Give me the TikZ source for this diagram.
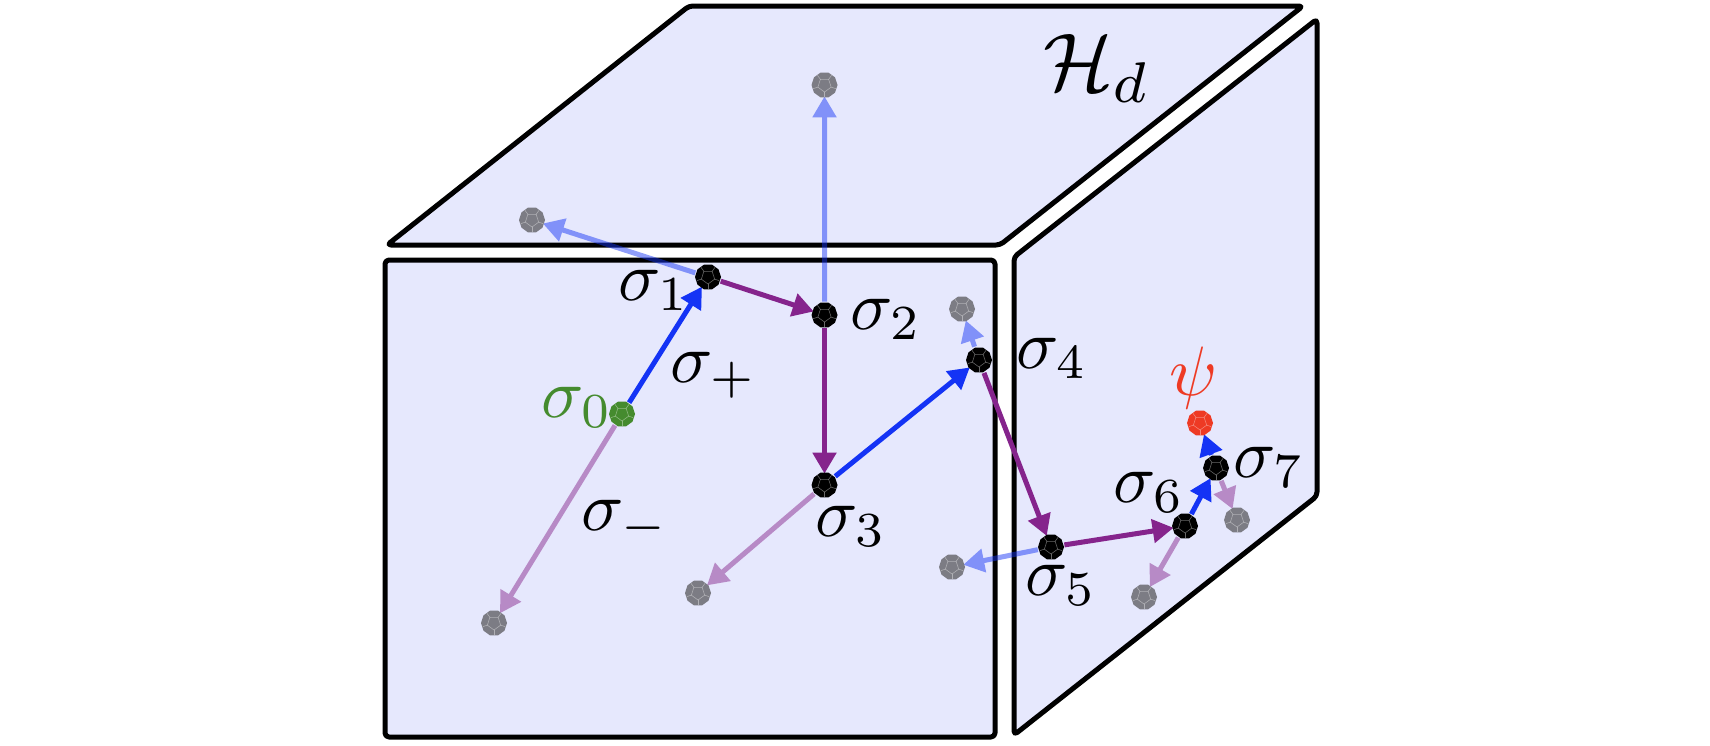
\documentclass[tikz,border=0pt]{standalone}
\usetikzlibrary{arrows.meta,shapes.geometric}
\definecolor{facecol}{HTML}{E6E8FD}
\definecolor{bluecol}{HTML}{1433F5}
\definecolor{purplecol}{HTML}{85248C}
\definecolor{greencol}{HTML}{458B2E}
\definecolor{redcol}{HTML}{EE3A24}
\definecolor{graycol}{HTML}{7C7C84}
\tikzset{
  boxface/.style={fill=facecol,draw=black,line width=5pt,rounded corners=4pt,line join=round},
  dodnode/.style={regular polygon,regular polygon sides=10,minimum size=26pt,inner sep=0pt,outer sep=1pt,draw=none},
  dodline/.style={draw=white,draw opacity=.4,line width=.55pt},
  conn/.style={line width=5pt,-{Triangle[length=21pt,width=23pt]},shorten >=-2pt},
  plusarrow/.style={conn,bluecol},
  minusarrow/.style={conn,purplecol},
  lightlayer/.style={transparency group,opacity=.48},
  lab/.style={anchor=base west,inner sep=0pt,scale=7},
}
\newcommand{\dodeca}[4]{%
  \node[dodnode,fill=#4] (#1) at (#2,#3) {};
  \begin{scope}[shift={(#1.center)}]
    \draw[dodline] (54:7pt) -- (126:7pt) -- (198:7pt) -- (270:7pt) -- (342:7pt) -- cycle;
    \foreach \a in {54,126,198,270,342} \draw[dodline] (\a:7pt) -- (\a:12pt);
  \end{scope}
}
\begin{document}
\begin{tikzpicture}[x=1pt,y=-1pt]
\useasboundingbox (0,0) rectangle (1710,745);
% faces
\draw[boxface] (387,245) -- (689,6) -- (1303,6) -- (1000,245) -- cycle;
\draw[boxface] (1014,257) -- (1317,19) -- (1317,496) -- (1014,735) -- cycle;
\draw[boxface] (385,260) rectangle (995,737);
% invisible anchors for the connectors
\foreach \n/\x/\y in {s0/622/414,s1/708/277,s2/824.5/315,s3/824.5/485,s4/979/360,s5/1051/547,s6/1185/526,s7/1216/468,
  psi/1200/423,g0/494/623,g1/532/220,g2/824.5/85,g3/698/593,g4/962/309,g5/952/567,g6/1144/597,g7/1237/520}
  \node[dodnode] (\n) at (\x,\y) {};
% connectors
\begin{scope}[lightlayer]
\draw[minusarrow] (s0) -- (g0);
\draw[minusarrow] (s3) -- (g3);
\draw[minusarrow] (s6) -- (g6);
\draw[minusarrow] (s7) -- (g7);
\end{scope}
\begin{scope}[lightlayer]
\draw[plusarrow] (s1) -- (g1);
\draw[plusarrow] (s2) -- (g2);
\draw[plusarrow] (s4) -- (g4);
\draw[plusarrow] (s5) -- (g5);
\end{scope}
\draw[plusarrow] (s0) -- (s1);
\draw[minusarrow] (s1) -- (s2);
\draw[minusarrow] (s2) -- (s3);
\draw[plusarrow] (s3) -- (s4);
\draw[minusarrow] (s4) -- (s5);
\draw[minusarrow] (s5) -- (s6);
\draw[plusarrow] (s6) -- (s7);
\draw[plusarrow] (s7) -- (psi);
% polyhedra
\dodeca{d0}{622}{414}{greencol}
\dodeca{d1}{708}{277}{black}
\dodeca{d2}{824.5}{315}{black}
\dodeca{d3}{824.5}{485}{black}
\dodeca{d4}{979}{360}{black}
\dodeca{d5}{1051}{547}{black}
\dodeca{d6}{1185}{526}{black}
\dodeca{d7}{1216}{468}{black}
\dodeca{dpsi}{1200}{423}{redcol}
\dodeca{e0}{494}{623}{graycol}
\dodeca{e1}{532}{220}{graycol}
\dodeca{e2}{824.5}{85}{graycol}
\dodeca{e3}{698}{593}{graycol}
\dodeca{e4}{962}{309}{graycol}
\dodeca{e5}{952}{567}{graycol}
\dodeca{e6}{1144}{597}{graycol}
\dodeca{e7}{1237}{520}{graycol}
% labels
\node[lab,text=greencol] (l0) at (540,417) {$\sigma_0$};
\node[lab] (l1) at (617,300) {$\sigma_1$};
\node[lab] (l2) at (849,329) {$\sigma_2$};
\node[lab] (l3) at (814,536) {$\sigma_3$};
\node[lab] (l4) at (1015,368) {$\sigma_4$};
\node[lab] (l5) at (1024,595) {$\sigma_5$};
\node[lab] (l6) at (1112,502) {$\sigma_6$};
\node[lab] (l7) at (1232,477) {$\sigma_7$};
\node[lab] (lp) at (669,382) {$\sigma_+$};
\node[lab] (lm) at (580,530) {$\sigma_-$};
\node[lab,text=redcol] (lpsi) at (1168,395) {$\psi$};
\node[lab,scale=8.2/7] (lH) at (1042,90) {$\mathcal{H}_d$};
\end{tikzpicture}
\end{document}
